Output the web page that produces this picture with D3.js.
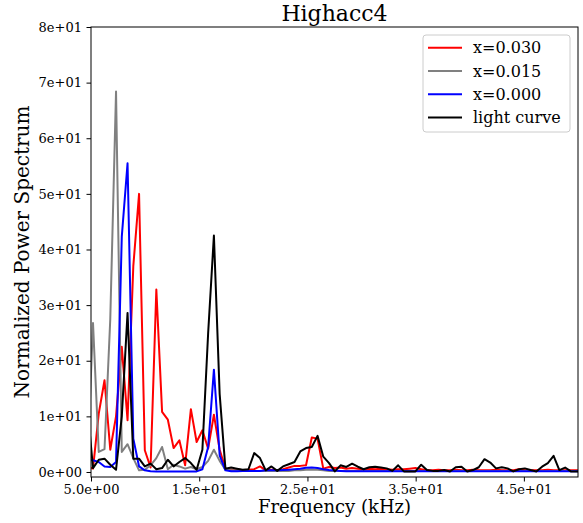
<!DOCTYPE html>
<html>
<head>
<meta charset="utf-8">
<script src="https://cdn.jsdelivr.net/npm/d3@7"></script>
<style>
  body { margin: 0; background: #fff; }
  text { font-family: "DejaVu Serif", serif; fill: #000; }
</style>
</head>
<body>
<div id="chart"></div>
<script>
// frequency bins (kHz), one per point of every series
var freq = [
    4.653, 5.185, 5.717, 6.249, 6.781, 7.313, 7.845, 8.377, 8.909, 9.441,
    9.973, 10.505, 11.037, 11.569, 12.101, 12.633, 13.165, 13.697, 14.229, 14.761,
    15.293, 15.825, 16.357, 16.889, 17.421, 17.953, 18.485, 19.017, 19.549, 20.081,
    20.613, 21.145, 21.677, 22.209, 22.741, 23.273, 23.805, 24.337, 24.869, 25.401,
    25.933, 26.465, 26.997, 27.529, 28.061, 28.593, 29.125, 29.657, 30.189, 30.721,
    31.253, 31.785, 32.317, 32.849, 33.381, 33.913, 34.445, 34.977, 35.509, 36.041,
    36.573, 37.105, 37.637, 38.169, 38.701, 39.233, 39.765, 40.297, 40.829, 41.361,
    41.893, 42.425, 42.957, 43.489, 44.021, 44.553, 45.085, 45.617, 46.149, 46.681,
    47.213, 47.745, 48.277, 48.809, 49.341, 49.873, 50.405
];

var powerX030 = [
    1.0, 0.6, 10.5, 16.5, 4.0, 10.0, 22.5, 9.3, 37.0, 50.0,
    3.9, 0.8, 32.8, 10.8, 9.4, 4.3, 5.7, 1.2, 11.3, 5.4,
    7.5, 4.2, 10.3, 4.0, 0.6, 0.4, 0.5, 0.3, 0.4, 0.5,
    1.0, 0.3, 0.4, 0.3, 0.5, 0.8, 1.1, 1.1, 1.2, 6.2,
    6.0, 0.6, 0.9, 0.7, 0.8, 0.6, 0.7, 0.6, 0.5, 0.6,
    0.5, 0.6, 0.5, 0.4, 0.5, 0.5, 0.6, 0.7, 0.5, 0.3,
    0.3, 0.4, 0.3, 0.3, 0.4, 0.3, 0.3, 0.4, 0.3, 0.3,
    0.3, 0.4, 0.3, 0.3, 0.3, 0.5, 0.3, 0.3, 0.3, 0.3,
    0.4, 0.3, 0.3, 0.3, 0.3, 0.3, 0.3
];

var powerX015 = [
    0.5, 26.8, 3.6, 4.1, 27.5, 68.4, 3.6, 5.0, 2.5, 0.3,
    0.4, 1.2, 2.5, 4.5, 0.5, 1.3, 1.0, 0.6, 0.9, 0.5,
    0.9, 2.0, 4.0, 2.0, 0.4, 0.3, 0.3, 0.2, 0.2, 0.2,
    0.2, 0.2, 0.2, 0.2, 0.2, 0.2, 0.3, 0.3, 0.4, 0.4,
    0.4, 0.3, 0.2, 0.2, 0.2, 0.2, 0.2, 0.2, 0.2, 0.2,
    0.2, 0.2, 0.2, 0.2, 0.2, 0.2, 0.2, 0.2, 0.2, 0.2,
    0.2, 0.2, 0.2, 0.2, 0.2, 0.2, 0.2, 0.2, 0.2, 0.2,
    0.2, 0.2, 0.2, 0.2, 0.2, 0.2, 0.2, 0.2, 0.2, 0.2,
    0.2, 0.2, 0.2, 0.2, 0.2, 0.2, 0.2
];

var powerX000 = [
    2.2, 2.1, 1.8, 1.0, 0.9, 1.8, 42.3, 55.5, 6.0, 1.0,
    0.3, 0.15, 0.1, 0.1, 0.1, 0.1, 0.1, 0.1, 0.1, 0.1,
    0.5, 4.5, 18.4, 3.0, 0.3, 0.15, 0.15, 0.2, 0.2, 0.2,
    0.2, 0.3, 0.3, 0.3, 0.35, 0.4, 0.5, 0.6, 0.75, 0.8,
    0.7, 0.5, 0.35, 0.25, 0.2, 0.15, 0.15, 0.15, 0.15, 0.15,
    0.15, 0.15, 0.15, 0.15, 0.15, 0.15, 0.15, 0.15, 0.15, 0.15,
    0.15, 0.15, 0.15, 0.15, 0.15, 0.15, 0.15, 0.15, 0.15, 0.15,
    0.15, 0.15, 0.15, 0.15, 0.15, 0.15, 0.15, 0.15, 0.15, 0.15,
    0.15, 0.15, 0.15, 0.15, 0.15, 0.15, 0.15
];

var powerLight = [
    12, 0.7, 2.2, 2.4, 1.3, 0.4, 10, 28.6, 2.4, 2.4,
    1.0, 1.5, 0.5, 0.7, 2.2, 1.0, 1.8, 2.5, 1.6, 0.4,
    4.0, 25, 42.5, 14, 0.6, 0.8, 0.6, 0.4, 0.5, 3.4,
    2.5, 0.3, 1.0, 0.2, 1.0, 1.4, 1.8, 3.7, 4.3, 4.5,
    6.5, 2.75, 1.6, 0.1, 1.2, 0.9, 1.5, 0.95, 0.5, 0.85,
    0.95, 0.8, 0.65, 0.2, 1.2, 0.1, 0.1, 0.1, 1.3, 0.35,
    0.2, 0.2, 0.35, 0.1, 0.85, 0.95, 0.1, 0.35, 0.85, 2.3,
    1.7, 0.65, 0.85, 0.65, 0.1, 0.5, 0.65, 0.35, 0.1, 0.95,
    1.6, 2.9, 0.35, 0.8, 0.1, 0.1, 0.1
];

var seriesNames = ["x=0.030", "x=0.015", "x=0.000", "light curve"];
var seriesColors = ["#ff0000", "#808080", "#0000ff", "#000000"];
var seriesValues = [powerX030, powerX015, powerX000, powerLight];

var xTicks = [5, 15, 25, 35, 45];
var yTicks = [0, 10, 20, 30, 40, 50, 60, 70, 80];

var W = 583, H = 523,
    margin = {top: 27, right: 5, bottom: 46, left: 91},
    w = W - margin.left - margin.right,
    h = H - margin.top - margin.bottom;

// matplotlib style "1.5e+01"
function sci(v, digits) {
    var s = v.toExponential(digits);
    return s.replace(/e([+-])(\d)$/, "e$10$2");
}

var main = d3.select("#chart").append("svg")
    .attr("width", W)
    .attr("height", H),
    svg = main.append("g")
    .attr("transform", "translate(" + margin.left + "," + margin.top + ")");

var xScale = d3.scaleLinear().domain([5, 50]).range([0, w]);
var yScale = d3.scaleLinear().domain([-0.9, 80]).range([h, 0]);

svg.append("clipPath")
    .attr("id", "clip")
    .append("rect")
    .attr("width", w)
    .attr("height", h);

var line = d3.line()
    .x(function(d) { return xScale(d.f); })
    .y(function(d) { return yScale(d.p); });

var lines = svg.append("g").attr("clip-path", "url(#clip)");
seriesValues.forEach(function(vals, k) {
    var pts = freq.map(function(f, i) { return {f: f, p: vals[i]}; });
    lines.append("path")
        .datum(pts)
        .attr("d", line)
        .attr("fill", "none")
        .attr("stroke", seriesColors[k])
        .attr("stroke-width", 2)
        .attr("stroke-linejoin", "round");
});

var xAxis = d3.axisBottom(xScale)
    .tickValues(xTicks)
    .tickFormat(function(d) { return sci(d, 1); })
    .tickSize(4.5)
    .tickPadding(3.5)
    .tickSizeOuter(0);
var yAxis = d3.axisLeft(yScale)
    .tickValues(yTicks)
    .tickFormat(function(d) { return sci(d, 0); })
    .tickSize(4.5)
    .tickPadding(4.5)
    .tickSizeOuter(0);

svg.append("g")
    .attr("transform", "translate(0," + h + ")")
    .call(xAxis)
    .call(function(g) { g.select(".domain").remove(); });
svg.append("g")
    .call(yAxis)
    .call(function(g) { g.select(".domain").remove(); });
svg.selectAll(".tick text")
    .style("font-family", "DejaVu Serif")
    .style("font-size", "13px");

svg.append("rect")
    .attr("width", w)
    .attr("height", h)
    .attr("fill", "none")
    .attr("stroke", "#000")
    .attr("stroke-width", 1);

// title and axis labels
main.append("text")
    .attr("x", margin.left + w / 2)
    .attr("y", 21)
    .attr("text-anchor", "middle")
    .style("font-size", "22px")
    .text("Highacc4");

main.append("text")
    .attr("x", margin.left + w / 2)
    .attr("y", 513)
    .attr("text-anchor", "middle")
    .style("font-size", "18px")
    .text("Frequency (kHz)");

main.append("text")
    .attr("transform", "translate(29," + (margin.top + h / 2) + ") rotate(-90)")
    .attr("text-anchor", "middle")
    .style("font-size", "20px")
    .text("Normalized Power Spectrum");

// legend
var legend = main.append("g").attr("transform", "translate(423,35)");
legend.append("rect")
    .attr("width", 147)
    .attr("height", 97)
    .attr("rx", 3)
    .attr("fill", "#fff")
    .attr("fill-opacity", 0.8)
    .attr("stroke", "#cccccc");
seriesNames.forEach(function(name, k) {
    var yy = 12.7 + k * 23.3;
    legend.append("line")
        .attr("x1", 5).attr("x2", 39)
        .attr("y1", yy).attr("y2", yy)
        .attr("stroke", seriesColors[k])
        .attr("stroke-width", 2);
    legend.append("text")
        .attr("x", 50)
        .attr("y", yy)
        .attr("dy", "0.35em")
        .style("font-size", "16px")
        .text(name);
});
</script>
</body>
</html>
